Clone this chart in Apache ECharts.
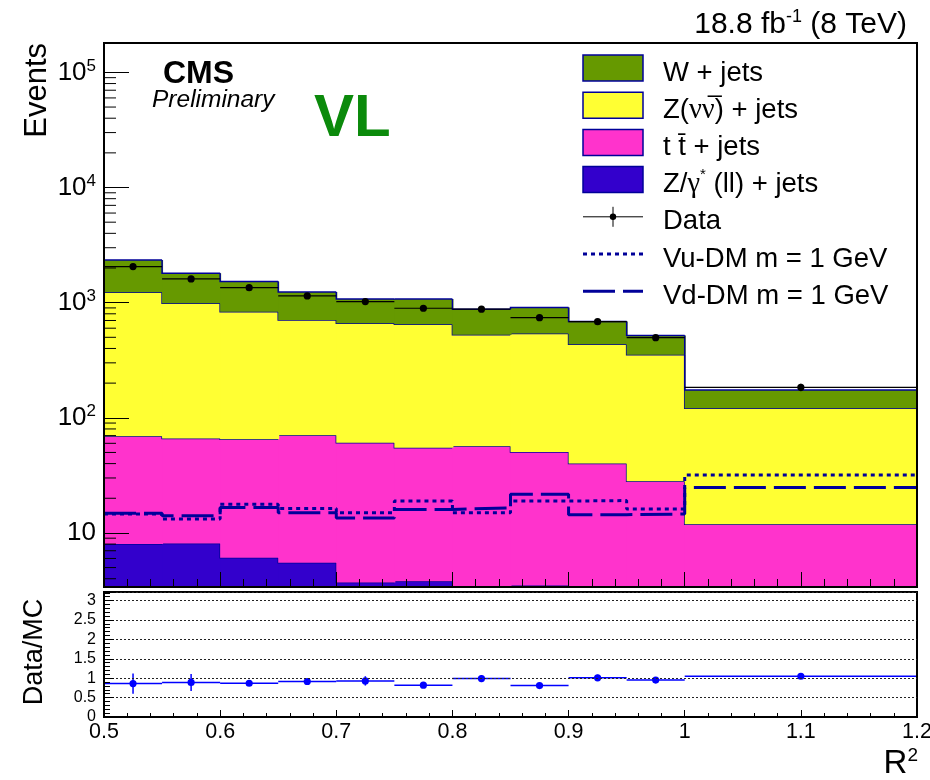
<!DOCTYPE html>
<html>
<head>
<meta charset="utf-8">
<title>R2 VL</title>
<script src="https://cdn.jsdelivr.net/npm/echarts@6/dist/echarts.min.js"></script>
<style>
html, body { margin: 0; padding: 0; background: #fff; }
#chart { width: 930px; height: 780px; }
</style>
</head>
<body>
<div id="chart"></div>
<script>
// bin edges in R^2 (last bin is wider)
const binEdges = [0.5, 0.55, 0.6, 0.65, 0.7, 0.75, 0.8, 0.85, 0.9, 0.95, 1.0, 1.2];

// stacked backgrounds, events per bin
const wJets   = [1120, 815, 690, 530, 415, 425, 350, 365, 250, 165, 53];
const znnJets = [1160, 920, 770, 635, 600, 595, 470, 490, 395, 325, 109];
const ttJets  = [61, 58, 59, 65, 57, 51, 54, 47, 38, 26.5, 10.7];
const zllJets = [8.0, 8.1, 6.1, 5.5, 3.7, 3.8, 2.6, 3.5, 2.0, 1.6, 1.2];

// data
const dataEvents = [2056, 1607, 1350, 1143, 1021, 894, 877, 741, 684, 496, 184];
const dataErr    = [45, 40, 37, 34, 32, 30, 30, 27, 26, 22, 14];

// signal lines
const vuDM = [14.6, 13.2, 17.7, 16.3, 15.0, 18.9, 15.0, 18.9, 19.1, 16.1, 31.8];
const vdDM = [14.8, 14.1, 16.6, 15.0, 13.5, 16.0, 16.5, 21.7, 14.4, 14.6, 24.8];

// ratio panel
const ratio    = [0.86, 0.89, 0.87, 0.915, 0.93, 0.82, 0.99, 0.81, 1.01, 0.95, 1.05];
const ratioErr = [0.26, 0.22, 0.06, 0.05, 0.12, 0.04, 0.09, 0.04, 0.08, 0.06, 0.07];

const Y_MIN = 3.39, Y_MAX = 1.8e5, R_MAX = 3.22;
const FONT = 'Liberation Sans, Arial, sans-serif';
const SERIF = 'Liberation Serif, DejaVu Serif, serif';
const EDGE = '#000099';

const chart = echarts.init(document.getElementById('chart'));

function histRender(color) {
    return function (params, api) {
        const x0 = api.value(0), x1 = api.value(1);
        const lo = api.value(2), hi = api.value(3), prev = api.value(4);
        const tl = api.coord([x0, hi]);
        const br = api.coord([x1, lo]);
        const pv = api.coord([x0, prev]);
        return {
            type: 'group',
            children: [
                // 1px overlap hides the seam with the next bin
                { type: 'rect', shape: { x: tl[0], y: tl[1], width: br[0] - tl[0] + 1, height: br[1] - tl[1] }, style: { fill: color } },
                { type: 'polyline', shape: { points: [pv, tl, [br[0], tl[1]]] }, style: { fill: null, stroke: EDGE, lineWidth: 1.5 } }
            ]
        };
    };
}

function pointRender(color, lw, r) {
    return function (params, api) {
        const xc = api.value(0), x0 = api.value(1), x1 = api.value(2);
        const v = api.value(3), err = api.value(4);
        const c = api.coord([xc, v]);
        const l = api.coord([x0, v]);
        const rr = api.coord([x1, v]);
        const up = api.coord([xc, v + err]);
        const dn = api.coord([xc, Math.max(v - err, 1e-3)]);
        return {
            type: 'group',
            children: [
                { type: 'line', shape: { x1: l[0], y1: l[1], x2: rr[0], y2: rr[1] }, style: { stroke: color, lineWidth: lw } },
                { type: 'line', shape: { x1: up[0], y1: up[1], x2: dn[0], y2: dn[1] }, style: { stroke: color, lineWidth: lw } },
                { type: 'circle', shape: { cx: c[0], cy: c[1], r: r }, style: { fill: color } }
            ]
        };
    };
}

// stacked histograms, bottom first
const stackDefs = [
    { values: zllJets, color: '#3300cc' },
    { values: ttJets, color: '#ff33cc' },
    { values: znnJets, color: '#ffff33' },
    { values: wJets, color: '#669900' }
];
let cum = zllJets.map(() => 0);
const stackSeries = stackDefs.map(function (def) {
    const lo = cum.slice();
    cum = cum.map((c, i) => c + def.values[i]);
    const data = def.values.map(function (v, i) {
        const base = Math.max(lo[i], 1);
        return [binEdges[i], binEdges[i + 1], base, cum[i], i > 0 ? cum[i - 1] : base];
    });
    return {
        type: 'custom', xAxisIndex: 0, yAxisIndex: 0, clip: true, silent: true, z: 2,
        encode: { x: [0, 1], y: [2, 3, 4] },
        renderItem: histRender(def.color),
        data: data
    };
});

function stepData(vals) {
    const d = vals.map((v, i) => [binEdges[i], v]);
    d.push([binEdges[binEdges.length - 1], vals[vals.length - 1]]);
    return d;
}

// log minor ticks at 2..9 x 10^k
const minorVals = [];
for (let k = 0; k <= 5; k++) {
    for (let m = 2; m <= 9; m++) {
        const v = m * Math.pow(10, k);
        if (v > Y_MIN && v < Y_MAX) minorVals.push([0.5, v]);
    }
}

const supLabel = function (v) {
    const e = Math.round(Math.log10(v));
    if (e === 1) return '{b|10}';
    return '{b|10}{s|' + e + '}';
};

const LEG = 27.5;
const legRich = {
    a: { fontSize: LEG, fontFamily: FONT, lineHeight: 34 },
    n: { fontSize: LEG + 1, fontFamily: SERIF, lineHeight: 34 },
    s: { fontSize: 15, fontFamily: FONT, lineHeight: 10, verticalAlign: 'top' }
};

// legend drawn in ROOT style
const legendRows = [
    { kind: 'box', fill: '#669900', text: '{a|W + jets}' },
    { kind: 'box', fill: '#ffff33', text: '{a|Z(}{n|νν\u0305}{a|) + jets}' },
    { kind: 'box', fill: '#ff33cc', text: '{a|t t\u0304 + jets}' },
    { kind: 'box', fill: '#3300cc', text: '{a|Z/}{n|γ}{s|*}{a| (ll) + jets}' },
    { kind: 'data', text: '{a|Data}' },
    { kind: 'line', dash: [4, 4], text: '{a|Vu-DM m = 1 GeV}' },
    { kind: 'line', dash: [32, 8], text: '{a|Vd-DM m = 1 GeV}' }
];
const legendGraphics = [];
legendRows.forEach(function (row, i) {
    const cy = 68 + i * 37.2;
    if (row.kind === 'box') {
        legendGraphics.push({ type: 'rect', shape: { x: 583, y: cy - 13, width: 60, height: 26 }, style: { fill: row.fill, stroke: EDGE, lineWidth: 1.5 }, z: 20 });
    } else if (row.kind === 'data') {
        legendGraphics.push({ type: 'line', shape: { x1: 583, y1: cy, x2: 643, y2: cy }, style: { stroke: '#000', lineWidth: 1 }, z: 20 });
        legendGraphics.push({ type: 'line', shape: { x1: 613, y1: cy - 10, x2: 613, y2: cy + 10 }, style: { stroke: '#000', lineWidth: 1 }, z: 20 });
        legendGraphics.push({ type: 'circle', shape: { cx: 613, cy: cy, r: 3.2 }, style: { fill: '#000' }, z: 20 });
    } else {
        legendGraphics.push({ type: 'line', shape: { x1: 583, y1: cy, x2: 643, y2: cy }, style: { stroke: EDGE, lineWidth: 3, lineDash: row.dash }, z: 20 });
    }
    legendGraphics.push({
        type: 'text', x: 663, y: cy + 5, z: 20,
        style: { text: row.text, fill: '#000', align: 'left', verticalAlign: 'middle', rich: legRich }
    });
});

const option = {
    animation: false,
    backgroundColor: '#fff',
    textStyle: { fontFamily: FONT },
    grid: [
        { left: 104, top: 43, width: 813, height: 544, show: true, borderColor: '#000', borderWidth: 2, z: 10, backgroundColor: 'transparent', outerBoundsMode: 'none', containLabel: false },
        { left: 104, top: 592, width: 813, height: 125, show: true, borderColor: '#000', borderWidth: 2, z: 10, backgroundColor: 'transparent', outerBoundsMode: 'none', containLabel: false }
    ],
    xAxis: [
        {
            type: 'value', gridIndex: 0, min: 0.5, max: 1.2, interval: 0.1, z: 11,
            axisLine: { show: true, onZero: false, lineStyle: { color: '#000', width: 2 } },
            axisTick: { show: true, inside: true, length: 15, lineStyle: { color: '#000', width: 1 } },
            minorTick: { show: true, splitNumber: 5, length: 8, lineStyle: { color: '#000', width: 1 } },
            axisLabel: { show: false },
            splitLine: { show: false }
        },
        {
            type: 'value', gridIndex: 1, min: 0.5, max: 1.2, interval: 0.1, z: 11,
            axisLine: { show: true, onZero: false, lineStyle: { color: '#000', width: 2 } },
            axisTick: { show: true, inside: true, length: 7, lineStyle: { color: '#000', width: 1 } },
            minorTick: { show: true, splitNumber: 5, length: 4, lineStyle: { color: '#000', width: 1 } },
            axisLabel: { show: true, margin: 4, color: '#000', fontSize: 21.5, fontFamily: FONT },
            splitLine: { show: false }
        }
    ],
    yAxis: [
        {
            type: 'log', gridIndex: 0, min: Y_MIN, max: Y_MAX, logBase: 10, z: 11,
            axisLine: { show: true, lineStyle: { color: '#000', width: 2 } },
            axisTick: { show: true, inside: true, length: 25, lineStyle: { color: '#000', width: 1 } },
            axisLabel: {
                show: true, margin: 8, color: '#000', showMinLabel: false, showMaxLabel: false,
                formatter: supLabel,
                rich: {
                    b: { fontSize: 26, fontFamily: FONT, color: '#000', lineHeight: 30 },
                    s: { fontSize: 17, fontFamily: FONT, color: '#000', lineHeight: 16, verticalAlign: 'top' }
                }
            },
            splitLine: { show: false }
        },
        {
            type: 'value', gridIndex: 1, min: 0, max: R_MAX, interval: 0.5, z: 11,
            axisLine: { show: true, lineStyle: { color: '#000', width: 2 } },
            axisTick: { show: true, inside: true, length: 10, lineStyle: { color: '#000', width: 1 } },
            minorTick: { show: true, splitNumber: 5, length: 6, lineStyle: { color: '#000', width: 1 } },
            axisLabel: { show: true, margin: 8, color: '#000', fontSize: 16, fontFamily: FONT, showMaxLabel: false },
            splitLine: { show: true, lineStyle: { color: '#222', width: 1, type: [2, 2] } }
        }
    ],
    series: stackSeries.concat([
        {
            type: 'line', xAxisIndex: 0, yAxisIndex: 0, step: 'end', symbol: 'none', silent: true, z: 4,
            data: stepData(vuDM), lineStyle: { color: EDGE, width: 3, type: [4, 4] }
        },
        {
            type: 'line', xAxisIndex: 0, yAxisIndex: 0, step: 'end', symbol: 'none', silent: true, z: 4,
            data: stepData(vdDM), lineStyle: { color: EDGE, width: 3, type: [32, 8] }
        },
        {
            type: 'custom', xAxisIndex: 0, yAxisIndex: 0, silent: true, z: 6,
            encode: { x: [0, 1, 2], y: [3] },
            renderItem: pointRender('#000', 1.2, 3.6),
            data: dataEvents.map((v, i) => [(binEdges[i] + binEdges[i + 1]) / 2, binEdges[i], binEdges[i + 1], v, dataErr[i]])
        },
        {
            type: 'custom', xAxisIndex: 0, yAxisIndex: 0, silent: true, z: 12,
            encode: { x: [0], y: [1] },
            renderItem: function (params, api) {
                const p = api.coord([api.value(0), api.value(1)]);
                return { type: 'line', shape: { x1: p[0], y1: p[1], x2: p[0] + 12, y2: p[1] }, style: { stroke: '#000', lineWidth: 1 } };
            },
            data: minorVals
        },
        {
            type: 'custom', xAxisIndex: 1, yAxisIndex: 1, silent: true, z: 6,
            encode: { x: [0, 1, 2], y: [3] },
            renderItem: pointRender('#0000ff', 1.5, 3.6),
            data: ratio.map((v, i) => [(binEdges[i] + binEdges[i + 1]) / 2, binEdges[i], binEdges[i + 1], v, ratioErr[i]])
        }
    ]),
    graphic: legendGraphics.concat([
        { type: 'text', x: 907, y: 25, z: 20, style: {
            text: '{a|18.8 fb}{s|-1}{a| (8 TeV)}', align: 'right', verticalAlign: 'middle', fill: '#000',
            rich: { a: { fontSize: 30, fontFamily: FONT, lineHeight: 34 }, s: { fontSize: 18, fontFamily: FONT, lineHeight: 16, verticalAlign: 'top' } }
        } },
        { type: 'text', x: 163, y: 74, z: 20, style: { text: 'CMS', fontSize: 32, fontWeight: 'bold', fontFamily: FONT, fill: '#000', align: 'left', verticalAlign: 'middle' } },
        { type: 'text', x: 152, y: 100, z: 20, style: { text: 'Preliminary', fontSize: 24.5, fontStyle: 'italic', fontFamily: FONT, fill: '#000', align: 'left', verticalAlign: 'middle' } },
        { type: 'text', x: 314, y: 119, z: 20, style: { text: 'VL', fontSize: 60, fontWeight: 'bold', fontFamily: FONT, fill: '#0b8a0b', align: 'left', verticalAlign: 'middle' } },
        { type: 'text', x: 37, y: 43, rotation: Math.PI / 2, z: 20, style: { text: 'Events', fontSize: 31, fontFamily: FONT, fill: '#000', align: 'right', verticalAlign: 'middle' } },
        { type: 'text', x: 35, y: 652, rotation: Math.PI / 2, z: 20, style: { text: 'Data/MC', fontSize: 27, fontFamily: FONT, fill: '#000', align: 'center', verticalAlign: 'middle' } },
        { type: 'text', x: 918, y: 764, z: 20, style: {
            text: '{r|R}{s|2}', align: 'right', verticalAlign: 'middle', fill: '#000',
            rich: { r: { fontSize: 33, fontFamily: FONT, lineHeight: 36 }, s: { fontSize: 19, fontFamily: FONT, lineHeight: 20, verticalAlign: 'top' } }
        } }
    ])
};

chart.setOption(option);
window.addEventListener('resize', function () { chart.resize(); });
</script>
</body>
</html>
